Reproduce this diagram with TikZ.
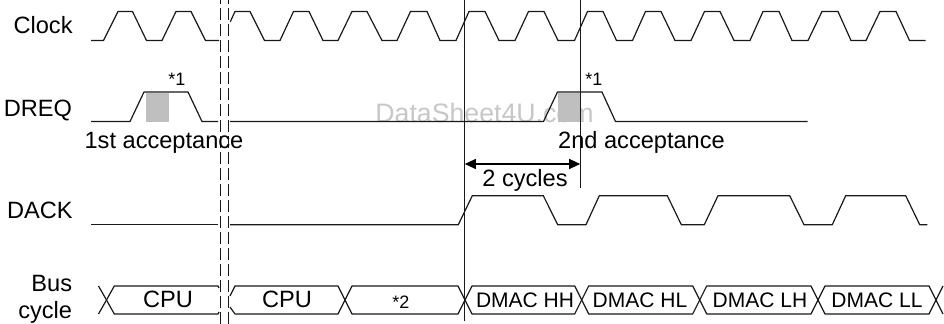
\documentclass[tikz,border=0pt]{standalone}
\usepackage{fontspec}
\setmainfont{Liberation Sans}
\usetikzlibrary{arrows.meta}
\tikzset{
  wave/.style={line width=0.6pt,line join=round,color=black!90},
  breakline/.style={line width=0.6pt,color=black!90,dash pattern=on 6.2pt off 1.8pt,dash phase=4pt},
  marker/.style={line width=0.6pt,color=black!90},
  span/.style={line width=0.6pt,{Triangle[length=5.5pt,width=5pt]}-{Triangle[length=5.5pt,width=5pt]}},
  acc/.style={fill=black!25,draw=none},
  lab/.style={inner sep=0pt,anchor=base,font=\fontsize{11.8}{13.5}\selectfont},
  rlab/.style={inner sep=0pt,anchor=base east,align=right,font=\fontsize{11.8}{13.5}\selectfont},
  note/.style={inner sep=0pt,anchor=base,font=\fontsize{9}{11}\selectfont},
  busl/.style={inner sep=0pt,anchor=base,font=\fontsize{10.5}{12}\selectfont},
  mark1/.style={inner sep=0pt,anchor=base west,font=\fontsize{13.35}{15}\selectfont,text=black!22}
}
\begin{document}
\begin{tikzpicture}[x=0.5pt,y=-0.5pt]
\useasboundingbox (0,0) rectangle (944,324);
% watermark and acceptance windows
\node[mark1] (wm) at (375,122.5) {DataSheet4U.com};
\fill[acc] (146,93) rectangle (169,122);
\fill[acc] (558,93) rectangle (580.5,122);
% break lines
\draw[breakline] (220.5,0) -- (220.5,324);
\draw[breakline] (228.5,0) -- (228.5,324);
% Clock
\draw[wave] (91,40.5) -- (103.5,40.5) -- (118,11.5) -- (132.5,11.5) -- (146.5,40.5) -- (162,40.5) -- (176,11.5) -- (191,11.5) -- (205.5,40.5) -- (219,40.5);
\draw[wave] (230.3,21.7) -- (235,11.5) -- (250,11.5) -- (264.5,40.5) -- (280,40.5) -- (293.5,11.5) -- (309,11.5) -- (323,40.5) -- (338,40.5) -- (352,11.5) -- (367,11.5) -- (382,40.5) -- (397,40.5) -- (410.5,11.5) -- (427,11.5) -- (440,40.5) -- (456,40.5) -- (469,11.5) -- (485,11.5) -- (499,40.5) -- (515,40.5) -- (528.5,11.5) -- (544,11.5) -- (558,40.5) -- (574.5,40.5) -- (587.5,11.5) -- (603,11.5) -- (616.5,40.5) -- (632.5,40.5) -- (645.5,11.5) -- (661,11.5) -- (675,40.5) -- (691,40.5) -- (704.5,11.5) -- (720,11.5) -- (734,40.5) -- (750,40.5) -- (763,11.5) -- (779,11.5) -- (792,40.5) -- (808,40.5) -- (822,11.5) -- (838,11.5) -- (851,40.5) -- (866,40.5) -- (880,11.5) -- (896,11.5) -- (909.5,40.5) -- (925.5,40.5);
% DREQ
\draw[wave] (91,121.5) -- (130,121.5) -- (144,92) -- (188,92) -- (202,121.5) -- (218,121.5);
\draw[wave] (230,121.5) -- (543.5,121.5) -- (557.5,92) -- (602,92) -- (615.5,121.5) -- (807.5,121.5);
% DACK
\draw[wave] (91,224.7) -- (218,224.7);
\draw[wave] (230,224.7) -- (458.3,224.7) -- (472.3,195.7) -- (543.3,195.7) -- (557.7,224.7) -- (586,224.7) -- (599.3,195.7) -- (667.3,195.7) -- (681.3,224.7) -- (704.3,224.7) -- (718,195.7) -- (789.7,195.7) -- (804,224.7) -- (832.3,224.7) -- (845.7,195.7) -- (905.7,195.7) -- (919.7,224.7) -- (927.3,224.7);
% Bus cycle
\draw[wave] (98.5,314) -- (106.5,300) -- (114.3,286) -- (218,286) -- (219,288);
\draw[wave] (98.5,286) -- (106.5,300) -- (114.3,314) -- (218,314) -- (219,312);
\draw[wave] (230,296) -- (235,286) -- (338,286) -- (345,300) -- (338,314) -- (235,314) -- (230,307);
\foreach \a/\b in {345/465,465/581.7,581.7/699.7,699.7/818,818/936}{
  \draw[wave] (\a,300) -- (\a+7,286) -- (\b-7,286) -- (\b,300) -- (\b-7,314) -- (\a+7,314) -- cycle;
}
\draw[wave] (936,300) -- (943,286);
\draw[wave] (936,300) -- (943,314);
% markers
\coordinate (m1top) at (464.5,0);
\coordinate (m1bot) at (464.5,321);
\coordinate (m2top) at (580.5,0);
\coordinate (m2bot) at (580.5,188);
\draw[marker] (m1top) -- (m1bot);
\draw[marker] (m2top) -- (m2bot);
\coordinate (sa) at (464.8,164);
\coordinate (sb) at (580.2,164);
\draw[span] (sa) -- (sb);
% labels
\node[rlab] (clk) at (73,33.5) {Clock};
\node[rlab] (dreq) at (72.5,117) {DREQ};
\node[rlab] (dack) at (73,218.5) {DACK};
\node[rlab] (bus) at (72.5,292) {Bus};
\node[rlab] (cyc) at (72.5,319) {cycle};
\node[note] (n1a) at (177,86) {*1};
\node[note] (n1b) at (594,86) {*1};
\node[lab] (acc1) at (164,149) {1st acceptance};
\node[lab] (acc2) at (641.5,149) {2nd acceptance};
\node[lab] (two) at (525,187) {2 cycles};
\node[lab] (cpu1) at (168,308) {CPU};
\node[lab] (cpu2) at (287,308) {CPU};
\node[note] (n2) at (401,309) {*2};
\node[busl] (hh) at (525,308) {DMAC HH};
\node[busl] (hl) at (640,308) {DMAC HL};
\node[busl] (lh) at (760,308) {DMAC LH};
\node[busl] (ll) at (877,308) {DMAC LL};
\end{tikzpicture}
\end{document}
